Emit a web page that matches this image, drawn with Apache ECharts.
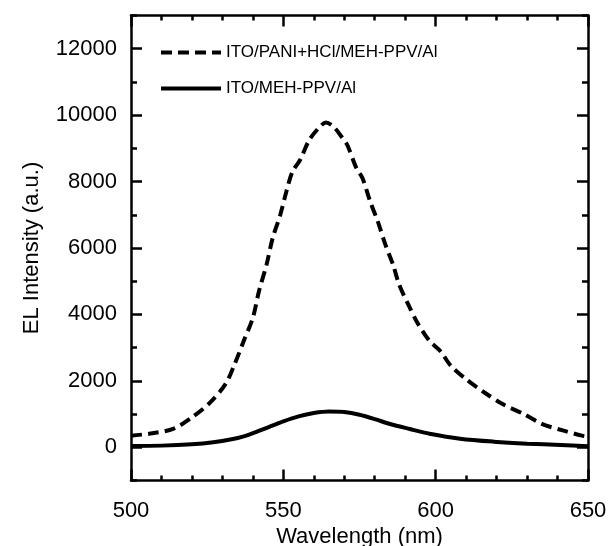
<!DOCTYPE html>
<html>
<head>
<meta charset="utf-8">
<script src="https://cdn.jsdelivr.net/npm/echarts@6/dist/echarts.min.js"></script>
<style>html,body{margin:0;padding:0;background:#fff}#c{width:612px;height:546px}</style>
</head>
<body>
<div id="c"></div>
<script>
var seriesNames = ['ITO/PANI+HCl/MEH-PPV/Al', 'ITO/MEH-PPV/Al'];
var dashedX = [500, 507, 514, 520, 526, 531, 534, 537, 540, 542, 544.5, 546.5, 549, 551, 553, 555.5, 558.5, 562, 564, 566.5, 569.5, 571, 574, 576, 578.5, 581, 583.5, 586, 588, 591, 594, 598, 601.5, 605, 610, 616, 622, 629, 635, 642, 648, 650];
var dashedY = [350, 420, 560, 900, 1350, 1900, 2500, 3200, 3900, 4700, 5500, 6300, 7000, 7700, 8300, 8650, 9250, 9650, 9780, 9650, 9300, 9100, 8400, 8100, 7400, 6800, 6100, 5500, 4900, 4300, 3750, 3200, 2900, 2450, 2050, 1650, 1300, 1000, 700, 500, 350, 320];
var solidX = [500, 510, 520, 527, 533, 537, 541, 545, 550, 555, 560, 565, 570, 575, 580, 585, 591.5, 598, 608, 619, 630, 641, 650];
var solidY = [40, 50, 90, 150, 240, 330, 460, 600, 780, 930, 1030, 1075, 1060, 980, 850, 700, 550, 410, 260, 170, 110, 70, 30];
var yTicks = [0, 2000, 4000, 6000, 8000, 10000, 12000];
var xName = 'Wavelength (nm)';
var yName = 'EL Intensity (a.u.)';

function pairs(xs, ys) { return xs.map(function (x, i) { return [x, ys[i]]; }); }
var FONT = 'Liberation Sans, Arial, sans-serif';
var BLACK = '#000';

function xAx(pos, interval, tickLen, withLine, labels) {
  return {
    type: 'value', position: pos, min: 500, max: 650, interval: interval,
    axisLine: { show: withLine, onZero: false, lineStyle: { color: BLACK, width: 2.5 } },
    axisTick: { show: true, inside: true, length: tickLen, lineStyle: { color: BLACK, width: 2.5 } },
    splitLine: { show: false },
    axisLabel: labels ? { show: true, margin: 19, fontSize: 22, color: BLACK, fontFamily: FONT } : { show: false },
    name: labels ? xName : '', nameLocation: 'middle', nameGap: 42,
    nameTextStyle: { fontSize: 22, color: BLACK, fontFamily: FONT }
  };
}
function yAx(pos, major, withLine, labels) {
  var tick = { show: true, inside: true, length: major ? 11 : 6, lineStyle: { color: BLACK, width: 2.5 } };
  if (major) tick.customValues = yTicks;
  return {
    type: 'value', position: pos, min: -1000, max: 13000, interval: 1000,
    axisLine: { show: withLine, onZero: false, lineStyle: { color: BLACK, width: 2.5 } },
    axisTick: tick,
    splitLine: { show: false },
    axisLabel: labels ? { show: true, margin: 14, fontSize: 22, color: BLACK, fontFamily: FONT, customValues: yTicks, formatter: function (v) { return String(v); } } : { show: false },
    name: labels ? yName : '', nameLocation: 'middle', nameGap: 88,
    nameTextStyle: { fontSize: 22, color: BLACK, fontFamily: FONT }
  };
}

var chart = echarts.init(document.getElementById('c'), null, { renderer: 'canvas' });
chart.setOption({
  animation: false,
  backgroundColor: '#fff',
  grid: { left: 131, right: 24, top: 15.5, bottom: 65.5, containLabel: false, outerBoundsMode: 'none' },
  legend: {
    show: true, orient: 'vertical', left: 154, top: 39, itemWidth: 60, itemHeight: 14, itemGap: 19,
    data: seriesNames,
    itemStyle: { opacity: 0 },
    lineStyle: { width: 4 },
    textStyle: { fontSize: 17, color: BLACK, fontFamily: FONT }
  },
  xAxis: [
    xAx('bottom', 50, 11, true, true),
    xAx('bottom', 10, 5, false, false),
    xAx('top', 50, 11, true, false),
    xAx('top', 10, 5, false, false)
  ],
  yAxis: [
    yAx('left', true, true, true),
    yAx('left', false, false, false),
    yAx('right', true, true, false),
    yAx('right', false, false, false)
  ],
  series: [
    { name: seriesNames[0], type: 'line', xAxisIndex: 0, yAxisIndex: 0, data: pairs(dashedX, dashedY),
      smooth: 0.3, showSymbol: false, symbol: 'none',
      lineStyle: { color: BLACK, width: 4, type: [11, 6] }, itemStyle: { color: BLACK } },
    { name: seriesNames[1], type: 'line', xAxisIndex: 0, yAxisIndex: 0, data: pairs(solidX, solidY),
      smooth: 0.3, showSymbol: false, symbol: 'none',
      lineStyle: { color: BLACK, width: 4 }, itemStyle: { color: BLACK } }
  ]
});
</script>
</body>
</html>
